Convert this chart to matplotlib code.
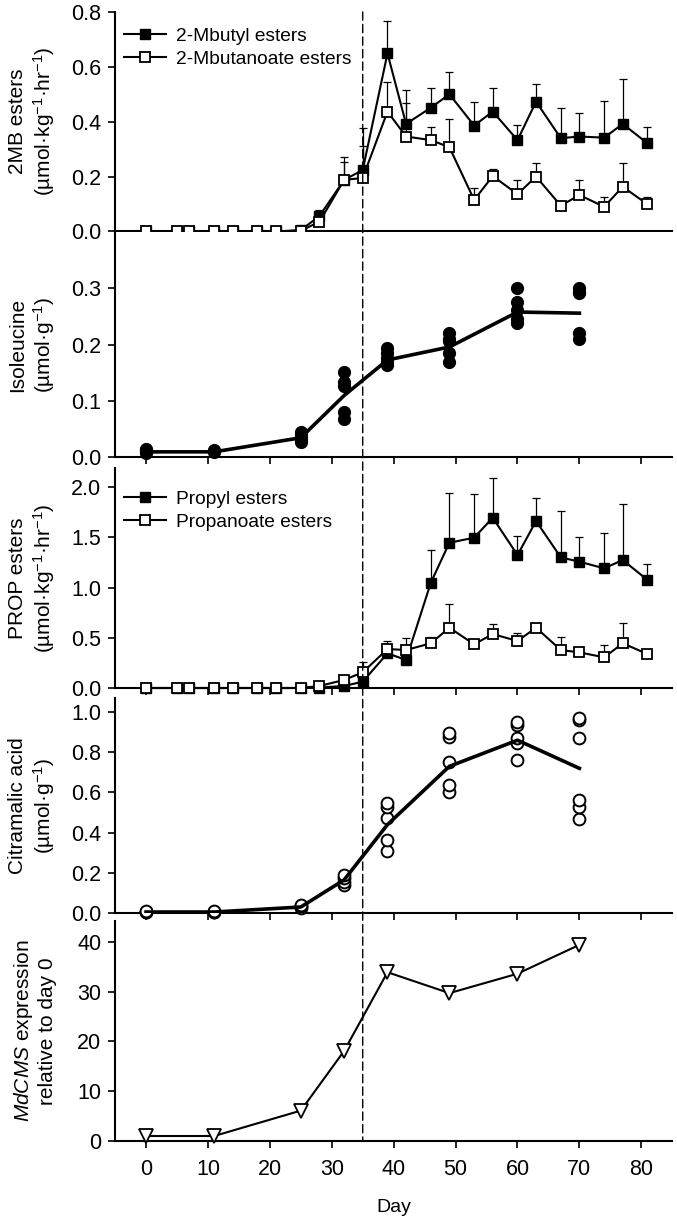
import numpy as np
import matplotlib
matplotlib.use("Agg")
import matplotlib.pyplot as plt
from matplotlib.patches import ConnectionPatch

plt.rcParams["font.family"] = ["Liberation Sans", "DejaVu Sans"]
plt.rcParams["mathtext.fontset"] = "custom"
plt.rcParams["mathtext.rm"] = "Liberation Sans"
plt.rcParams["mathtext.it"] = "Liberation Sans:italic"

# ester sampling days
ester_days = [0, 5, 7, 11, 14, 18, 21, 25, 28, 32, 35, 39, 42, 46, 49, 53, 56, 60, 63, 67, 70, 74, 77, 81]

mbutyl = [0, 0, 0, 0, 0, 0, 0, 0.005, 0.056, 0.188, 0.224, 0.649, 0.392, 0.451, 0.5, 0.386,
          0.437, 0.333, 0.473, 0.34, 0.346, 0.342, 0.392, 0.321]
mbutyl_err = [0, 0, 0, 0, 0, 0, 0, 0.003, 0.024, 0.085, 0.154, 0.118, 0.124, 0.073, 0.082, 0.085,
              0.087, 0.055, 0.066, 0.109, 0.085, 0.134, 0.163, 0.061]
mbutanoate = [0, 0, 0, 0, 0, 0, 0, 0.003, 0.035, 0.188, 0.195, 0.437, 0.346, 0.333, 0.307, 0.115,
              0.202, 0.136, 0.2, 0.094, 0.133, 0.09, 0.163, 0.099]
mbutanoate_err = [0, 0, 0, 0, 0, 0, 0, 0, 0.01, 0.065, 0.115, 0.109, 0.123, 0.049, 0.103, 0.045,
                  0.025, 0.052, 0.051, 0.006, 0.055, 0.037, 0.088, 0.026]

propyl = [0, 0, 0, 0, 0, 0, 0, 0, 0.005, 0.02, 0.063, 0.345, 0.279, 1.048, 1.446, 1.496,
          1.695, 1.323, 1.662, 1.3, 1.257, 1.191, 1.274, 1.075]
propyl_err = [0, 0, 0, 0, 0, 0, 0, 0, 0, 0, 0, 0, 0, 0.325, 0.491, 0.434,
              0.392, 0.187, 0.232, 0.464, 0.248, 0.354, 0.554, 0.159]
propanoate = [0, 0, 0, 0, 0, 0, 0, 0, 0.02, 0.08, 0.156, 0.388, 0.378, 0.445, 0.6, 0.435,
              0.537, 0.468, 0.6, 0.378, 0.355, 0.305, 0.445, 0.338]
propanoate_err = [0, 0, 0, 0, 0, 0, 0, 0, 0, 0, 0.104, 0.082, 0.122, 0.065, 0.236, 0,
                  0.097, 0.076, 0, 0.132, 0, 0.123, 0.205, 0]

# metabolite / expression sampling days
sample_days = [0, 11, 25, 32, 39, 49, 60, 70]

ile_reps = [
    [0.008, 0.011, 0.013, 0.015],
    [0.009, 0.011, 0.013],
    [0.028, 0.033, 0.037, 0.042, 0.046],
    [0.069, 0.081, 0.126, 0.134, 0.152],
    [0.164, 0.17, 0.176, 0.185, 0.194],
    [0.17, 0.185, 0.206, 0.211, 0.22],
    [0.238, 0.245, 0.262, 0.276, 0.301],
    [0.211, 0.22, 0.291, 0.294, 0.301],
]
ile_mean = [0.01, 0.01, 0.035, 0.11, 0.173, 0.196, 0.258, 0.256]

cit_reps = [
    [0.004, 0.007, 0.009],
    [0.003, 0.006, 0.008],
    [0.025, 0.035, 0.04],
    [0.14, 0.156, 0.175, 0.19],
    [0.31, 0.363, 0.471, 0.529, 0.546],
    [0.603, 0.637, 0.753, 0.877, 0.894],
    [0.761, 0.845, 0.869, 0.935, 0.952],
    [0.466, 0.527, 0.56, 0.869, 0.96, 0.968],
]
cit_mean = [0.005, 0.005, 0.03, 0.165, 0.44, 0.73, 0.86, 0.72]

mdcms = [1, 1, 6.1, 18.1, 33.9, 29.7, 33.6, 39.4]

fig = plt.figure(figsize=(6.77, 12.19), dpi=100)
L, W = 0.170, 0.823
boxes = [(0.8101, 0.1801), (0.6247, 0.1850), (0.4356, 0.1805), (0.2510, 0.1764), (0.0640, 0.1805)]
axes = [fig.add_axes([L, b, W, h]) for b, h in boxes]
ax1, ax2, ax3, ax4, ax5 = axes

for ax in axes:
    ax.spines["top"].set_visible(False)
    ax.spines["right"].set_visible(False)
    ax.spines["left"].set_linewidth(1.5)
    ax.spines["bottom"].set_linewidth(1.5)
    ax.set_xlim(-5, 85)
    ax.set_xticks(np.arange(0, 81, 10))
    ax.tick_params(direction="out", length=5, width=1.2, labelsize=15.5)
    ax.tick_params(axis="y", pad=5)
    ax.tick_params(axis="x", pad=8)
    ax.yaxis.set_label_coords(-0.105, 0.5)
for ax in axes[:-1]:
    ax.tick_params(axis="x", labelbottom=False)


def ester_panel(ax, y1, e1, y2, e2, lab1, lab2, legend_top):
    z = np.zeros(len(ester_days))
    ax.errorbar(ester_days, y1, yerr=[z, e1], fmt="none", ecolor="k", elinewidth=0.9,
                capsize=2.8, capthick=0.9, zorder=2, clip_on=False)
    ax.errorbar(ester_days, y2, yerr=[z, e2], fmt="none", ecolor="k", elinewidth=0.9,
                capsize=2.8, capthick=0.9, zorder=2, clip_on=False)
    ax.plot(ester_days, y1, "-s", color="k", lw=1.5, ms=6.5, mfc="k", mec="k",
            label=lab1, zorder=3, clip_on=False)
    ax.plot(ester_days, y2, "-s", color="k", lw=1.5, ms=6.5, mfc="white", mec="k", mew=1.3,
            label=lab2, zorder=4, clip_on=False)
    ax.legend(loc="upper left", frameon=False, fontsize=13.8, handlelength=2.2,
              handletextpad=0.5, borderaxespad=0.3, labelspacing=0.3, borderpad=0.5,
              bbox_to_anchor=(-0.011, legend_top))


ester_panel(ax1, mbutyl, mbutyl_err, mbutanoate, mbutanoate_err,
            "2-Mbutyl esters", "2-Mbutanoate esters", 1.0)
ax1.set_ylim(0, 0.8)
ax1.set_yticks([0, 0.2, 0.4, 0.6, 0.8])
ax1.set_yticklabels(["0.0", "0.2", "0.4", "0.6", "0.8"])
ax1.set_ylabel("2MB esters\n(µmol·kg$^{-1}$·hr$^{-1}$)", fontsize=15, linespacing=1.2)

ester_panel(ax3, propyl, propyl_err, propanoate, propanoate_err,
            "Propyl esters", "Propanoate esters", 0.967)
ax3.set_ylim(0, 2.19)
ax3.set_yticks([0, 0.5, 1.0, 1.5, 2.0])
ax3.set_yticklabels(["0.0", "0.5", "1.0", "1.5", "2.0"])
ax3.set_ylabel("PROP esters\n(µmol·kg$^{-1}$·hr$^{-1}$)", fontsize=15, linespacing=1.2)

# isoleucine
for d, reps in zip(sample_days, ile_reps):
    ax2.plot([d] * len(reps), reps, "o", color="k", ms=8.5, ls="none", zorder=3, clip_on=False)
ax2.plot(sample_days, ile_mean, "-", color="k", lw=2.6, zorder=2)
ax2.set_ylim(0, 0.4)
ax2.set_yticks([0, 0.1, 0.2, 0.3])
ax2.set_yticklabels(["0.0", "0.1", "0.2", "0.3"])
ax2.set_ylabel("Isoleucine\n(µmol·g$^{-1}$)", fontsize=15, linespacing=1.2)

# citramalic acid
for d, reps in zip(sample_days, cit_reps):
    ax4.plot([d] * len(reps), reps, "o", color="k", ms=8.5, mfc="white", mew=1.4,
             ls="none", zorder=3, clip_on=False)
ax4.plot(sample_days, cit_mean, "-", color="k", lw=2.6, zorder=4)
ax4.set_ylim(0, 1.07)
ax4.set_yticks([0, 0.2, 0.4, 0.6, 0.8, 1.0])
ax4.set_yticklabels(["0.0", "0.2", "0.4", "0.6", "0.8", "1.0"])
ax4.set_ylabel("Citramalic acid\n(µmol·g$^{-1}$)", fontsize=15, linespacing=1.2)

# MdCMS expression
ax5.plot(sample_days, mdcms, "-v", color="k", lw=1.5, ms=10, mfc="white", mec="k", mew=1.3,
         zorder=3, clip_on=False)
ax5.set_ylim(0, 44.2)
ax5.set_yticks([0, 10, 20, 30, 40])
ax5.set_ylabel("$MdCMS$ expression\nrelative to day 0", fontsize=15, linespacing=1.2)
ax5.set_xlabel("Day", fontsize=14, labelpad=14)

con = ConnectionPatch(xyA=(35, 0.8), coordsA=ax1.transData, xyB=(35, 0), coordsB=ax5.transData,
                      color="k", lw=1.0, linestyle=(0, (6, 3)), zorder=1)
fig.add_artist(con)

fig.savefig("out.png", dpi=100)
